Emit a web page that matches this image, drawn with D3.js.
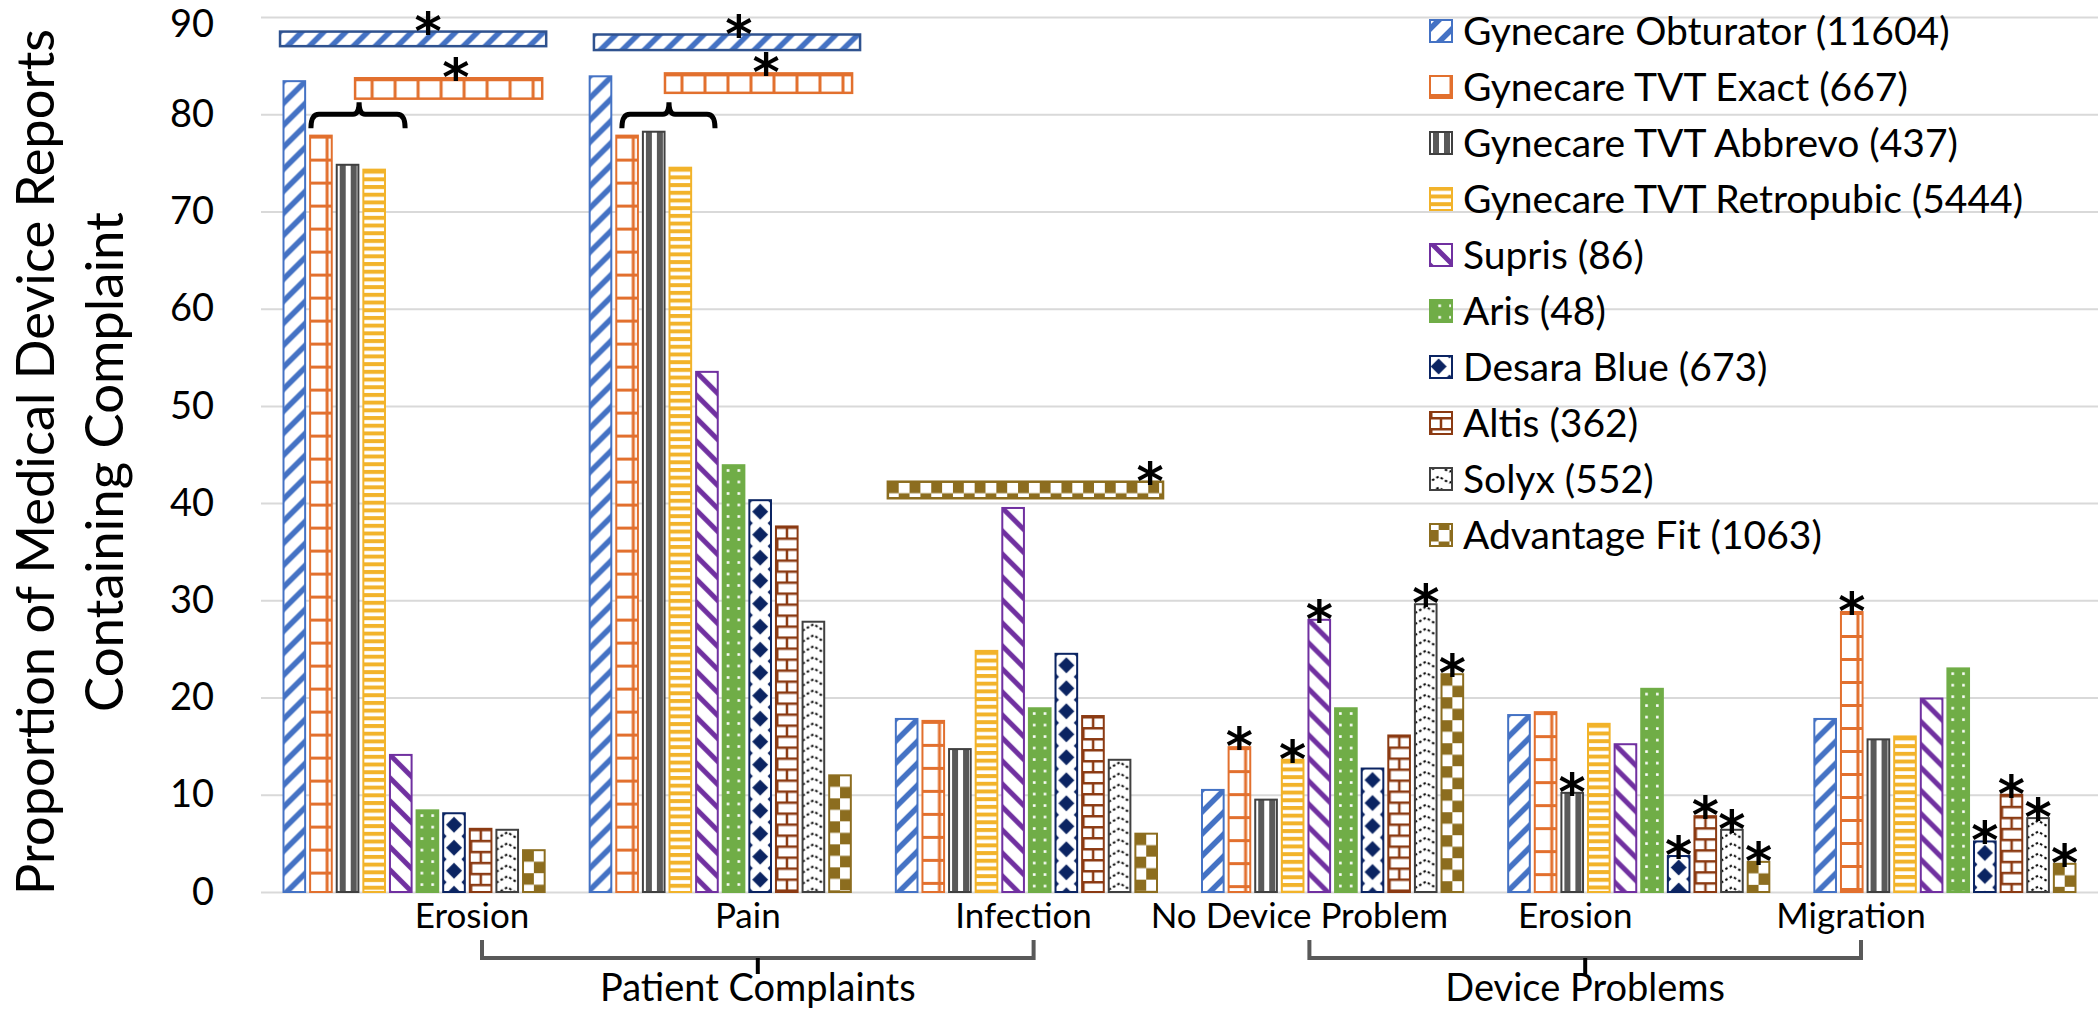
<!DOCTYPE html>
<html>
<head>
<meta charset="utf-8">
<script src="https://cdn.jsdelivr.net/npm/d3@7"></script>
<style>
  body { margin: 0; background: #fff; }
  text { font-family: Lato, "Open Sans", sans-serif; fill: #000; }
</style>
</head>
<body>
<div id="chart"></div>
<script>
// categories along the x axis (two "Erosion" groups, so bars are keyed by index)
const categories = ["Erosion", "Pain", "Infection", "No Device Problem", "Erosion", "Migration"];
const groups = [
    { name: "Patient Complaints", from: 0, to: 2 },
    { name: "Device Problems", from: 3, to: 5 }
];
const series = [
    "Gynecare Obturator (11604)",
    "Gynecare TVT Exact (667)",
    "Gynecare TVT Abbrevo (437)",
    "Gynecare TVT Retropubic (5444)",
    "Supris (86)",
    "Aris (48)",
    "Desara Blue (673)",
    "Altis (362)",
    "Solyx (552)",
    "Advantage Fit (1063)"
];
const yTicks = [0, 10, 20, 30, 40, 50, 60, 70, 80, 90];

// percent of reports containing the complaint, one array per device (category order)
const obturator  = [83.4, 83.9, 17.8, 10.5, 18.2, 17.8];
const tvtExact   = [77.8, 77.8, 17.6, 14.9, 18.5, 28.8];
const tvtAbbrevo = [74.8, 78.2, 14.7,  9.5, 10.2, 15.7];
const retropubic = [74.3, 74.5, 24.8, 13.6, 17.3, 16.0];
const supris     = [14.1, 53.5, 39.5, 28.0, 15.2, 19.9];
const aris       = [ 8.4, 43.9, 18.9, 18.9, 20.9, 23.0];
const desara     = [ 8.1, 40.3, 24.5, 12.7,  3.7,  5.2];
const altis      = [ 6.5, 37.6, 18.1, 16.1,  7.8, 10.0];
const solyx      = [ 6.4, 27.8, 13.6, 29.6,  6.4,  7.6];
const advFit     = [ 4.3, 12.0,  6.0, 22.4,  3.1,  2.9];
const values = [obturator, tvtExact, tvtAbbrevo, retropubic, supris, aris, desara, altis, solyx, advFit];

// [series, category] pairs marked with an asterisk
const starred = [[1, 3], [3, 3], [4, 3], [8, 3], [9, 3],
                 [2, 4], [6, 4], [7, 4], [8, 4], [9, 4],
                 [1, 5], [6, 5], [7, 5], [8, 5], [9, 5]];

// significance bars drawn above groups: span in bar slots, height range in y units
const sigBars = [
    { cat: 0, s: 0, from: -0.13, to: 9.87, lo: 87.0, hi: 88.5, star: 5.43 },
    { cat: 0, s: 1, from: 2.69,  to: 9.72, lo: 81.6, hi: 83.7, star: 6.48 },
    { cat: 1, s: 0, from: 0.16,  to: 10.16, lo: 86.6, hi: 88.2, star: 5.61 },
    { cat: 1, s: 1, from: 2.83,  to: 9.86, lo: 82.2, hi: 84.2, star: 6.63 },
    { cat: 2, s: 9, from: -0.3,  to: 10.04, lo: 40.5, hi: 42.2, star: 9.55 }
];
const braces = [
    { cat: 0, from: 1.03, to: 4.57, tip: 2.84, level: 80.0 },
    { cat: 1, from: 1.21, to: 4.71, tip: 2.98, level: 80.0 }
];

const colors = ["#4472C4", "#E2702E", "#404040", "#F2B32A", "#7030A0",
                "#70AD47", "#0B2462", "#8B3A12", "#404040", "#8C6D1F"];

var width = 2099;
var height = 1018;
let svg = d3.select("#chart").append("svg")
    .attr("width", width)
    .attr("height", height);

// ---------- fill patterns ----------
// every shape gets its own pattern tile anchored at its top-left corner
var defs = svg.append("defs");
var patCount = 0;
function patternFor(i, ox, oy) {
    var c = colors[i];
    var id = "pat" + (patCount++);
    var p = defs.append("pattern").attr("id", id)
        .attr("patternUnits", "userSpaceOnUse")
        .attr("x", ox).attr("y", oy);
    var bg = (i === 5) ? c : "#fff";
    function size(w, h) {
        p.attr("width", w).attr("height", h);
        p.append("rect").attr("width", w).attr("height", h).attr("fill", bg);
    }
    if (i === 0) { // wide upward diagonal
        size(22, 22);
        p.append("path").attr("d", "M-6,6 L6,-6 M0,22 L22,0 M16,28 L28,16")
            .attr("stroke", c).attr("stroke-width", 5.5);
    } else if (i === 1) { // large grid
        size(23, 23);
        p.append("path").attr("d", "M0,1.5 H23 M17,0 V23")
            .attr("stroke", c).attr("stroke-width", 3);
    } else if (i === 2) { // wide vertical
        size(11, 12);
        p.append("rect").attr("x", 3).attr("width", 6).attr("height", 12).attr("fill", "#595959");
    } else if (i === 3) { // horizontal stripes
        size(8, 7.7);
        p.append("rect").attr("y", 0).attr("width", 8).attr("height", 4).attr("fill", c);
    } else if (i === 4) { // wide downward diagonal
        size(23, 23);
        p.append("path").attr("d", "M-6,17 L6,29 M0,0 L23,23 M17,-6 L29,6")
            .attr("stroke", c).attr("stroke-width", 5);
    } else if (i === 5) { // dotted green
        size(10.8, 11.5);
        p.append("rect").attr("x", 4).attr("y", 4).attr("width", 2.6).attr("height", 2.6).attr("fill", "#fff");
    } else if (i === 6) { // diamonds in a column, small points at the edges
        var w = 21.7, r = 8;
        size(w, 23);
        p.append("path").attr("d",
            `M${w / 2},${11.5 - r} L${w / 2 + r},11.5 L${w / 2},${11.5 + r} L${w / 2 - r},11.5Z` +
            "M0,-3.5 L3.5,0 L0,3.5 L-3.5,0Z M0,19.5 L3.5,23 L0,26.5 L-3.5,23Z" +
            `M${w},-3.5 L${w + 3.5},0 L${w},3.5 L${w - 3.5},0Z M${w},19.5 L${w + 3.5},23 L${w},26.5 L${w - 3.5},23Z`)
            .attr("fill", c);
    } else if (i === 7) { // horizontal brick
        size(22, 22);
        p.append("path").attr("d", "M0,1.25 H22 M0,12.25 H22 M11,0 V11 M1.25,11 V22")
            .attr("stroke", c).attr("stroke-width", 2.5);
    } else if (i === 8) { // dashed zigzag
        size(21.7, 11);
        p.append("path").attr("d", "M0,9 L10.85,2.5 L21.7,9")
            .attr("stroke", "#000").attr("stroke-width", 2).attr("fill", "none")
            .attr("stroke-dasharray", "2.5,2.5");
    } else { // large checker board
        size(21.7, 23);
        p.append("rect").attr("width", 10.85).attr("height", 11.5).attr("fill", c);
        p.append("rect").attr("x", 10.85).attr("y", 11.5).attr("width", 10.85).attr("height", 11.5).attr("fill", c);
    }
    return "url(#" + id + ")";
}

// ---------- scales ----------
var x0 = d3.scaleBand()
    .domain(d3.range(categories.length))
    .range([261, 2098])
    .paddingInner(0.147)
    .paddingOuter(0.0735);
var x1 = d3.scaleBand()
    .domain(d3.range(series.length))
    .range([0, x0.bandwidth()])
    .paddingInner(0.187);
var y = d3.scaleLinear().domain([0, 90]).range([892, 17]);
// the category captions sit on their own, slightly narrower spacing
var xLabel = d3.scalePoint()
    .domain(d3.range(categories.length))
    .range([472, 1851]);

// slot position inside a category (fractional slots allowed)
function slotX(cat, slot) { return x0(cat) + slot * x1.step(); }

// ---------- gridlines + y tick labels ----------
var yAxis = d3.axisLeft(y)
    .tickValues(yTicks)
    .tickSizeInner(-(2098 - 261))
    .tickSizeOuter(0)
    .tickPadding(47);
var gy = svg.append("g").attr("transform", "translate(261,0)").call(yAxis);
gy.select(".domain").remove();
gy.selectAll(".tick line").attr("stroke", "#d9d9d9").attr("stroke-width", 2);
gy.selectAll(".tick text")
    .style("font-family", "Lato, sans-serif")
    .style("font-size", "38px")
    .attr("fill", "#000");
// keep the top label inside the picture
gy.selectAll(".tick text").filter(d => d === 90).attr("dy", "0.5em");

// y axis title (two lines)
var title = svg.append("g").attr("transform", "translate(0,462) rotate(-90)");
title.append("text").attr("x", 0).attr("y", 54)
    .attr("text-anchor", "middle")
    .attr("textLength", 866).attr("lengthAdjust", "spacingAndGlyphs")
    .style("font-size", "52px")
    .text("Proportion of Medical Device Reports");
title.append("text").attr("x", 0).attr("y", 123)
    .attr("text-anchor", "middle")
    .attr("textLength", 500).attr("lengthAdjust", "spacingAndGlyphs")
    .style("font-size", "52px")
    .text("Containing Complaint");

// ---------- bars ----------
var barData = [];
values.forEach((vals, s) => vals.forEach((v, c) => barData.push({ s: s, c: c, v: v })));

svg.append("g").selectAll("rect")
    .data(barData)
    .enter()
    .append("rect")
    .attr("x", d => x0(d.c) + x1(d.s))
    .attr("y", d => y(d.v))
    .attr("width", x1.bandwidth())
    .attr("height", d => y(0) - y(d.v))
    .attr("fill", d => patternFor(d.s, x0(d.c) + x1(d.s), y(d.v)))
    .attr("stroke", d => colors[d.s])
    .attr("stroke-width", 2);

// asterisk helper: bottom of the glyph sits just above "top"
function star(cx, top) {
    svg.append("text")
        .attr("x", cx)
        .attr("y", top - 2 + 19)
        .attr("text-anchor", "middle")
        .style("font-family", "DejaVu Sans, sans-serif")
        .style("font-weight", "bold")
        .style("font-size", "52px")
        .text("*");
}
starred.forEach(([s, c]) => star(x0(c) + x1(s) + x1.bandwidth() / 2, y(values[s][c])));

// ---------- significance bars and braces ----------
sigBars.forEach(b => {
    svg.append("rect")
        .attr("x", slotX(b.cat, b.from))
        .attr("y", y(b.hi))
        .attr("width", slotX(b.cat, b.to) - slotX(b.cat, b.from))
        .attr("height", y(b.lo) - y(b.hi))
        .attr("fill", patternFor(b.s, slotX(b.cat, b.from), y(b.hi)))
        .attr("stroke", b.s === 0 ? "#2F528F" : colors[b.s])
        .attr("stroke-width", 2.5);
    star(slotX(b.cat, b.star), y(b.hi));
});

braces.forEach(b => {
    var xa = slotX(b.cat, b.from), xb = slotX(b.cat, b.to), xt = slotX(b.cat, b.tip);
    var yl = y(b.level);
    var path = d3.path();
    path.moveTo(xa, yl + 14);
    path.quadraticCurveTo(xa, yl, xa + 8, yl);
    path.lineTo(xt - 6, yl);
    path.quadraticCurveTo(xt, yl, xt, yl - 12);
    path.quadraticCurveTo(xt, yl, xt + 6, yl);
    path.lineTo(xb - 8, yl);
    path.quadraticCurveTo(xb, yl, xb, yl + 14);
    svg.append("path").attr("d", path.toString())
        .attr("fill", "none").attr("stroke", "#000").attr("stroke-width", 5);
});

// ---------- category labels + group brackets ----------
svg.append("g").selectAll("text")
    .data(categories)
    .enter()
    .append("text")
    .attr("x", (d, i) => xLabel(i))
    .attr("y", 928)
    .attr("text-anchor", "middle")
    .style("font-size", "35px")
    .text(d => d);

groups.forEach(g => {
    var xa = xLabel(g.from) + 10, xb = xLabel(g.to) + 10, xm = (xa + xb) / 2;
    svg.append("path")
        .attr("d", `M${xa},940 V958 H${xb} V940`)
        .attr("fill", "none").attr("stroke", "#595959").attr("stroke-width", 4);
    svg.append("line")
        .attr("x1", xm).attr("x2", xm).attr("y1", 958).attr("y2", 974)
        .attr("stroke", "#000").attr("stroke-width", 4);
    svg.append("text")
        .attr("x", xm).attr("y", 1001)
        .attr("text-anchor", "middle")
        .style("font-size", "38px")
        .text(g.name);
});

// ---------- legend ----------
var legend = svg.append("g").attr("transform", "translate(1430,31)");
var rows = legend.selectAll("g")
    .data(series)
    .enter()
    .append("g")
    .attr("transform", (d, i) => `translate(0,${i * 56})`);
rows.append("rect")
    .attr("x", 0).attr("y", -11)
    .attr("width", 22).attr("height", 22)
    .attr("fill", (d, i) => patternFor(i, 1430, 31 + i * 56 - 11))
    .attr("stroke", (d, i) => colors[i])
    .attr("stroke-width", 2);
rows.append("text")
    .attr("x", 33).attr("dy", "0.36em")
    .style("font-size", "39px")
    .text(d => d);
</script>
</body>
</html>
